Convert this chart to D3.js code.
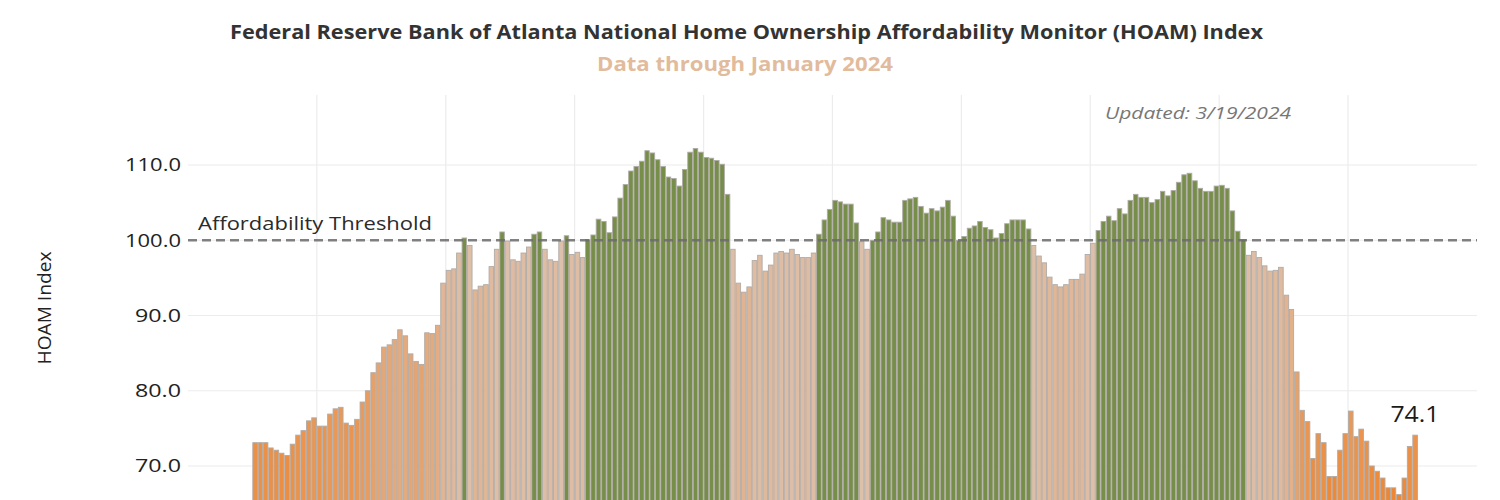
<!DOCTYPE html>
<html>
<head>
<meta charset="utf-8">
<script src="https://cdn.jsdelivr.net/npm/d3@7"></script>
<style>
  body { margin: 0; background: #fff; }
  svg { display: block; font-family: "Open Sans", "Noto Sans", sans-serif; }
</style>
</head>
<body>
<div id="chart"></div>
<script>
// Monthly HOAM index, January 2006 through January 2024.
const firstMonth = new Date(2006, 0, 1);
const lastMonth = new Date(2024, 0, 1);
const hoamValues = [
  73.1, 73.1, 73.1, 72.4, 72.1, 71.7, 71.4, 72.9, 74.1, 74.7, 76.0, 76.4,
  75.3, 75.3, 76.9, 77.6, 77.8, 75.7, 75.4, 76.2, 78.5, 80.0, 82.4, 83.7,
  85.8, 86.1, 86.8, 88.1, 87.3, 84.9, 83.9, 83.5, 87.7, 87.6, 88.7, 94.3,
  96.0, 96.2, 98.3, 100.3, 99.3, 93.4, 93.9, 94.1, 96.5, 98.8, 101.1, 99.9,
  97.4, 97.2, 98.3, 99.1, 100.8, 101.1, 98.8, 97.4, 97.2, 99.9, 100.6, 98.1,
  98.4, 97.7, 100.1, 100.7, 102.8, 102.5, 101.0, 103.1, 105.6, 107.4, 109.2, 109.8,
  110.5, 111.9, 111.6, 110.7, 109.8, 108.4, 108.2, 107.2, 109.4, 111.7, 112.2, 111.7,
  111.0, 110.9, 110.6, 110.1, 106.1, 98.8, 94.3, 93.1, 93.8, 97.3, 98.0, 95.9,
  96.7, 98.3, 98.5, 98.3, 98.8, 98.1, 97.7, 97.7, 98.3, 100.8, 102.7, 104.1,
  105.3, 105.1, 104.8, 104.8, 102.3, 99.8, 98.8, 100.0, 101.1, 103.0, 102.7, 102.4,
  102.4, 105.3, 105.5, 105.7, 104.5, 103.6, 104.2, 103.9, 104.4, 105.3, 103.2, 100.0,
  100.5, 101.6, 101.9, 102.5, 101.7, 101.4, 100.3, 100.9, 102.2, 102.7, 102.7, 102.7,
  101.5, 99.3, 97.9, 97.0, 95.1, 94.1, 93.8, 94.1, 94.8, 94.8, 95.5, 98.1,
  99.6, 101.3, 102.5, 103.2, 102.6, 104.2, 103.5, 105.3, 106.1, 105.7, 105.7, 105.0,
  105.4, 106.5, 105.9, 106.6, 107.7, 108.7, 108.9, 107.9, 106.9, 106.5, 106.5, 107.2,
  107.3, 106.9, 103.9, 101.2, 100.1, 98.0, 98.5, 97.7, 96.6, 95.9, 96.0, 96.4,
  92.7, 90.8, 82.5, 77.4, 75.9, 71.0, 74.3, 73.1, 68.6, 68.6, 72.1, 74.3,
  77.3, 73.9, 74.9, 73.3, 70.0, 69.3, 68.4, 67.1, 67.1, 66.2, 68.4, 72.6,
  74.1
];
const yTicks = [70, 80, 90, 100, 110];
const threshold = 100;

const titleText = "Federal Reserve Bank of Atlanta National Home Ownership Affordability Monitor (HOAM) Index";
const subtitleText = "Data through January 2024";
const updatedText = "Updated: 3/19/2024";

const width = 1500, height = 500;

const months = d3.timeMonth.range(firstMonth, d3.timeMonth.offset(lastMonth, 1));
const data = months.map((m, i) => ({ date: m, value: hoamValues[i] }));

const svg = d3.select("#chart").append("svg")
    .attr("width", width)
    .attr("height", height);

// Continuous time axis, plot spans Jan 2005 - Jan 2025.
const x = d3.scaleTime()
    .domain([new Date(2005, 0, 1), new Date(2025, 0, 1)])
    .range([188, 1477]);

const y = d3.scaleLinear()
    .domain([70, 110])
    .range([466, 165]);

const plotTop = 95;

// stretch a text horizontally to the width it has in the picture
function fitWidth(sel, target) {
    sel.attr("textLength", target).attr("lengthAdjust", "spacingAndGlyphs");
}

// Gridlines
const grid = svg.append("g");
grid.selectAll("line.h")
    .data(yTicks)
    .join("line")
    .attr("x1", x.range()[0]).attr("x2", x.range()[1])
    .attr("y1", d => y(d)).attr("y2", d => y(d))
    .attr("stroke", "#ececec").attr("stroke-width", 1.2);

const vTicks = d3.timeYear.range(new Date(2007, 0, 1), new Date(2024, 0, 2), 2);
grid.selectAll("line.v")
    .data(vTicks)
    .join("line")
    .attr("x1", d => x(d)).attr("x2", d => x(d))
    .attr("y1", plotTop).attr("y2", height)
    .attr("stroke", "#ececec").attr("stroke-width", 1.2);

// Bar colours: green above the threshold, orange to tan below it.
const belowColor = d3.scaleLinear()
    .domain([66, 100])
    .range(["#ee852f", "#ddc0ab"])
    .clamp(true);
const fillFor = v => v >= threshold ? "#768e49" : belowColor(v);

svg.append("g")
    .selectAll("rect")
    .data(data)
    .join("rect")
    .attr("x", d => x(d.date) + 0.4)
    .attr("y", d => y(d.value))
    .attr("width", d => x(d3.timeMonth.offset(d.date, 1)) - x(d.date) - 0.8)
    .attr("height", d => height + 20 - y(d.value))
    .attr("fill", d => fillFor(d.value))
    .attr("stroke", "#b0aba7")
    .attr("stroke-width", 0.9);

// Threshold line and label
svg.append("line")
    .attr("x1", x.range()[0]).attr("x2", x.range()[1])
    .attr("y1", y(threshold)).attr("y2", y(threshold))
    .attr("stroke", "#6b6b6b")
    .attr("stroke-opacity", 0.85)
    .attr("stroke-width", 2.5)
    .attr("stroke-dasharray", "9,5");

svg.append("text")
    .attr("x", 198).attr("y", y(threshold) - 10)
    .attr("font-size", 18.5)
    .attr("fill", "#2b2b2b")
    .text("Affordability Threshold")
    .call(fitWidth, 234);

// Y axis labels
svg.append("g")
    .selectAll("text")
    .data(yTicks)
    .join("text")
    .attr("x", 125)
    .attr("y", d => y(d))
    .attr("dy", "0.36em")
    .attr("font-size", 18)
    .attr("fill", "#222")
    .text(d => d3.format(".1f")(d))
    .each(function(d) {
        d3.select(this).call(fitWidth, d >= 100 ? 56 : 46);
        if (d < 100) d3.select(this).attr("x", 135);
    });

svg.append("text")
    .attr("transform", `translate(51,308) rotate(-90)`)
    .attr("text-anchor", "middle")
    .attr("font-size", 18)
    .attr("fill", "#222")
    .text("HOAM Index")
    .call(fitWidth, 113);

// Last value label
const last = data[data.length - 1];
svg.append("text")
    .attr("x", x(last.date) - 22)
    .attr("y", y(last.value) - 13)
    .attr("font-size", 21)
    .attr("fill", "#1a1a1a")
    .text(last.value.toFixed(1))
    .call(fitWidth, 49);

// Titles
svg.append("text")
    .attr("x", 230).attr("y", 39)
    .attr("font-size", 20)
    .attr("font-weight", "bold")
    .attr("fill", "#333")
    .text(titleText)
    .call(fitWidth, 1033);

svg.append("text")
    .attr("x", 597).attr("y", 71)
    .attr("font-size", 20)
    .attr("font-weight", "bold")
    .attr("fill", "#e2bb9c")
    .text(subtitleText)
    .call(fitWidth, 296);

svg.append("text")
    .attr("x", 1105).attr("y", 119)
    .attr("font-size", 17)
    .attr("font-style", "italic")
    .attr("fill", "#777")
    .text(updatedText)
    .call(fitWidth, 186);
</script>
</body>
</html>
